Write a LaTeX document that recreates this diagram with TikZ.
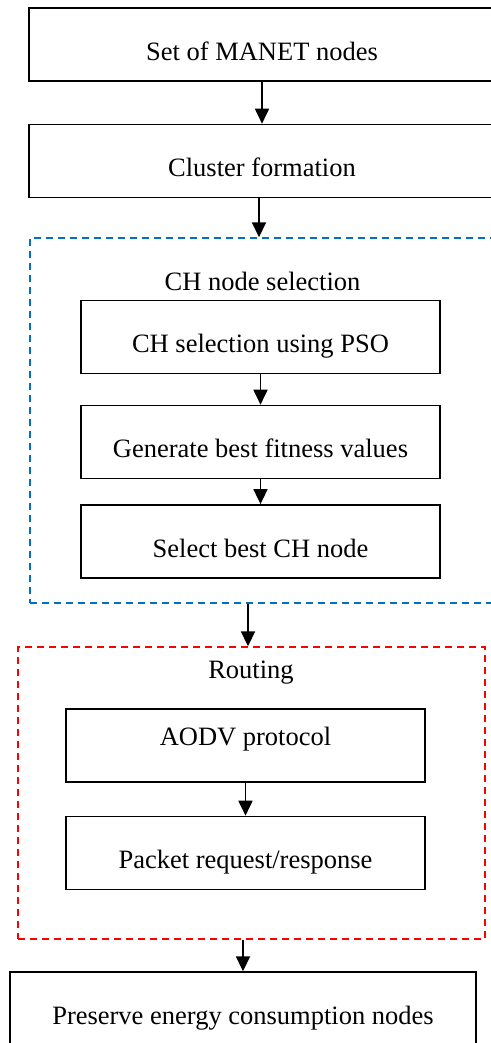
\documentclass[tikz,border=0pt]{standalone}
\usepackage{fontspec}
\setmainfont{Liberation Serif}
\usepackage{tikz}
\usetikzlibrary{shapes, arrows.meta, positioning, fit}

\definecolor{cpBlue}{RGB}{0,112,192}
\definecolor{cpRed}{RGB}{255,0,0}

\begin{document}
\begin{tikzpicture}[
        x=1pt, y=1pt,
        every node/.style={font=\fontsize{13.25pt}{16pt}\selectfont},
        block/.style={
          rectangle,
          draw,
          line width=0.7pt,
          align=center,
          minimum width=233pt,
          minimum height=36.5pt,
          text height=15.8pt,
          text depth=0pt
        },
        innerBlock/.style={
          block,
          minimum width=179.5pt
        },
        line/.style={-{Triangle[length=7.5pt, width=7pt]}, line width=0.9pt},
        dashedBox/.style={
          rectangle,
          draw=#1,
          line width=0.7pt,
          dash pattern=on 3.5pt off 2.5pt,
          inner sep=0pt
        }
    ]
    \useasboundingbox (0,0) rectangle (245.5,-521.5);

    % Top steps
    \node[block] (manet) at (131,-22.25) {Set of MANET nodes};
    \node[block, below=21pt of manet] (cluster) {Cluster formation};

    % CH node selection group
    \node[dashedBox=cpBlue, minimum width=232.5pt, minimum height=182.5pt] (chBox) at (131.25,-210.25) {};
    \node (chTitle) at ([yshift=-22pt]chBox.north) {CH node selection};
    \node[innerBlock] (psoSel) at (130.25,-168.5) {CH selection using PSO};
    \node[innerBlock, below=15.25pt of psoSel] (fitness) {Generate best fitness values};
    \node[innerBlock, below=12.5pt of fitness] (bestCH) {Select best CH node};

    % Routing group
    \node[dashedBox=cpRed, minimum width=233.5pt, minimum height=146pt] (routBox) at (125.75,-396.5) {};
    \node (routTitle) at (125.5,-336.5) {Routing};
    \node[innerBlock, text height=8pt, text depth=7.7pt] (aodv) at (122.75,-372.75) {AODV protocol};
    \node[innerBlock, below=16.5pt of aodv] (packet) {Packet request/response};

    % Last step
    \node[block] (preserve) at (121.5,-504.25) {Preserve energy consumption nodes};

    % Connect the nodes
    \draw[line] (manet) -- (cluster);
    \draw[line] ([xshift=-1.5pt]cluster.south) -- ([xshift=-1.5pt]cluster.south |- chBox.north);
    \draw[line] (psoSel) -- (fitness);
    \draw[line] (fitness) -- (bestCH);
    \draw[line] ([xshift=-1.75pt]chBox.south -| routBox.north) -- ([xshift=-1.75pt]routBox.north);
    \draw[line] (aodv) -- (packet);
    \draw[line] (routBox.south -| preserve.north) -- (preserve.north);

\end{tikzpicture}
\end{document}
